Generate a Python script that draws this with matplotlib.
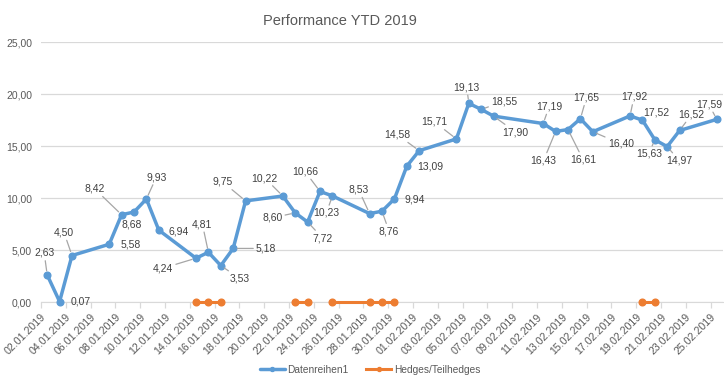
import numpy as np
import matplotlib
matplotlib.use("Agg")
import matplotlib.pyplot as plt
import matplotlib.dates as mdates

plt.rcParams["font.family"] = ["Liberation Sans", "DejaVu Sans"]

# data
dates = ["2019-01-02", "2019-01-03", "2019-01-04", "2019-01-07", "2019-01-08",
         "2019-01-09", "2019-01-10", "2019-01-11", "2019-01-14", "2019-01-15",
         "2019-01-16", "2019-01-17", "2019-01-18", "2019-01-21", "2019-01-22",
         "2019-01-23", "2019-01-24", "2019-01-25", "2019-01-28", "2019-01-29",
         "2019-01-30", "2019-01-31", "2019-02-01", "2019-02-04", "2019-02-05",
         "2019-02-06", "2019-02-07", "2019-02-11", "2019-02-12", "2019-02-13",
         "2019-02-14", "2019-02-15", "2019-02-18", "2019-02-19", "2019-02-20",
         "2019-02-21", "2019-02-22", "2019-02-25"]
performance = [2.63, 0.07, 4.50, 5.58, 8.42, 8.68, 9.93, 6.94, 4.24, 4.81,
               3.53, 5.18, 9.75, 10.22, 8.60, 7.72, 10.66, 10.23, 8.53, 8.76,
               9.94, 13.09, 14.58, 15.71, 19.13, 18.55, 17.90, 17.19, 16.43, 16.61,
               17.65, 16.40, 17.92, 17.52, 15.63, 14.97, 16.52, 17.59]
nan = np.nan
hedges = [nan, nan, nan, nan, nan, nan, nan, nan, 0, 0,
          0, nan, nan, nan, 0, 0, nan, 0, 0, 0,
          0, nan, nan, nan, nan, nan, nan, nan, nan, nan,
          nan, nan, nan, 0, 0, nan, nan, nan]
series_names = ["Datenreihen1", "Hedges/Teilhedges"]
title = "Performance YTD 2019"

# label placement (pixel offsets from the point) and whether a leader line is shown
label_offsets = [(-3, 22), (21, 0), (-8, 23), (22, 0), (-27, 26), (-2, -12), (10, 22),
                 (20, -1), (-33, -10), (-6, 28), (19, -13), (33, 0), (-23, 19),
                 (-18, 18), (-23, -5), (15, -16), (-15, 20), (-6, -17), (-11, 24),
                 (7, -20), (20, -1), (23, 0), (-22, 16), (-22, 17), (-2, 16),
                 (23, 8), (22, -16), (6, 17), (-12, -29), (15, -30), (6, 21),
                 (28, -12), (4, 19), (14, 8), (-6, -14), (12, -14), (12, 16), (-8, 15)]
leaders = [1, 0, 1, 0, 1, 0, 1, 0, 1, 1, 1, 1, 1, 1, 1, 1, 1, 1, 1, 1, 0, 0, 1, 1,
           1, 1, 1, 1, 1, 1, 1, 1, 1, 0, 1, 1, 1, 1]

blue = "#5B9BD5"
orange = "#ED7D31"
grid_c = "#D9D9D9"
text_c = "#595959"

x = np.array(dates, dtype="datetime64[D]") + np.timedelta64(12, "h")
x = x.astype("datetime64[s]").astype(object)

fig = plt.figure(figsize=(7.24, 3.79), dpi=100)
ax = fig.add_axes([41 / 724, 1 - 302.3 / 379, 682 / 724, 260 / 379])

ax.plot(x, performance, color=blue, lw=2.5, marker="o", ms=4.8,
        solid_capstyle="round", label=series_names[0], zorder=3, clip_on=False)
ax.plot(x, hedges, color=orange, lw=2.2, marker="o", ms=4.8,
        label=series_names[1], zorder=3, clip_on=False)

for xi, v, off, ld in zip(x, performance, label_offsets, leaders):
    arrow = dict(arrowstyle="-", color="#A6A6A6", lw=0.9, shrinkA=0, shrinkB=3) if ld else None
    ax.annotate(f"{v:.2f}".replace(".", ","), xy=(xi, v), xytext=off,
                textcoords="offset pixels", ha="center", va="center",
                fontsize=7.5, color="#404040", arrowprops=arrow, zorder=4)

start = np.datetime64("2019-01-02")
ax.set_xlim(mdates.date2num(start), mdates.date2num(start + np.timedelta64(55, "D")))
ticks = [mdates.date2num(start + np.timedelta64(2 * k, "D")) for k in range(28)]
ax.set_xticks(ticks)
ax.xaxis.set_major_formatter(mdates.DateFormatter("%d.%m.%Y"))
plt.setp(ax.get_xticklabels(), rotation=45, ha="right", rotation_mode="anchor")

ax.set_ylim(0, 25)
ax.set_yticks(np.arange(0, 26, 5))
ax.yaxis.set_major_formatter(plt.FuncFormatter(lambda v, p: f"{v:.2f}".replace(".", ",")))

ax.grid(axis="y", color=grid_c, lw=0.9)
ax.set_axisbelow(True)
for s in ["top", "right", "left"]:
    ax.spines[s].set_visible(False)
ax.spines["bottom"].set_color(grid_c)
ax.tick_params(axis="x", colors=grid_c, length=4, width=0.9, labelsize=7.7,
               labelcolor=text_c, pad=3)
ax.tick_params(axis="y", length=0, labelsize=7.5, labelcolor=text_c, pad=6.5)

fig.text(339.5 / 724, 1 - 21 / 379, title, ha="center", va="center",
         fontsize=10.5, color=text_c)
fig.legend(loc="center", bbox_to_anchor=(370 / 724, 1 - 370 / 379), ncol=2, frameon=False,
           fontsize=7.3, labelcolor=text_c, handlelength=2.5, columnspacing=1.7,
           handletextpad=0.25, markerscale=0.6)

fig.savefig("out.png", dpi=100)
